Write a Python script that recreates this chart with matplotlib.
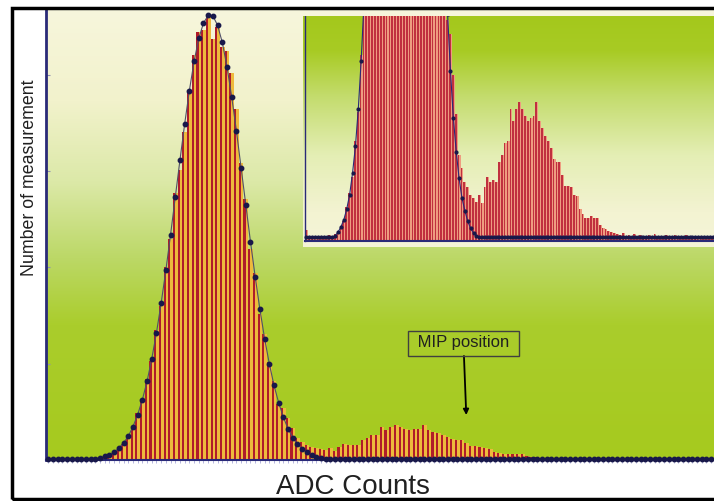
import numpy as np
import matplotlib
matplotlib.use('Agg')
import matplotlib.pyplot as plt
from matplotlib.colors import LinearSegmentedColormap
from matplotlib.patches import Rectangle

plt.rcParams['font.family'] = ['Liberation Sans', 'DejaVu Sans']

# histogram counts per ADC bin (main peak = pedestal, bump = MIP)
counts = [0.6, 0.3, 0.25, 0.3, 0.2, 0.3, 0.25, 0.3, 0.35, 0.3, 0.4, 0.45, 0.7, 1.1,
          1.9, 2.7, 3.6, 5.6, 7.2, 10.4, 13.1, 17.9, 22.0, 28.9, 34.2, 43.0, 49.2, 59.3,
          64.5, 73.0, 82.0, 90.0, 95.2, 95.6, 99.1, 93.5, 96.3, 91.8, 91.0, 86.0, 78.0, 66.0,
          58.0, 47.0, 41.5, 32.5, 28.0, 21.8, 17.5, 12.4, 11.6, 9.3, 7.1, 4.8, 4.1, 3.3,
          3.0, 2.6, 2.4, 2.2, 2.6, 2.1, 3.0, 3.6, 3.3, 3.4, 3.3, 4.4, 4.8, 5.5,
          5.6, 7.4, 6.7, 7.4, 7.8, 7.4, 7.0, 6.7, 6.9, 7.0, 7.8, 6.7, 6.3, 5.9,
          5.6, 5.2, 4.6, 4.4, 4.4, 3.7, 3.1, 3.1, 3.0, 2.6, 2.5, 1.8, 1.5, 1.3,
          1.3, 1.4, 1.3, 1.3, 0.9, 0.75, 0.65, 0.55, 0.5, 0.45, 0.4, 0.35, 0.45, 0.3,
          0.35, 0.3, 0.4, 0.25, 0.35, 0.3, 0.25, 0.35, 0.3, 0.4, 0.25, 0.3, 0.3, 0.35,
          0.25, 0.3, 0.35, 0.2, 0.3, 0.25, 0.35, 0.3, 0.2, 0.3, 0.25, 0.3, 0.2, 0.3, 0.25, 0.3]

# fitted pedestal curve, one point per bin
fit = [0.2, 0.2, 0.2, 0.2, 0.2, 0.2, 0.2, 0.2, 0.2, 0.2, 0.3, 0.5, 0.8, 1.2,
       1.8, 2.6, 3.8, 5.3, 7.4, 10.1, 13.4, 17.5, 22.5, 28.3, 34.9, 42.2, 50.1, 58.4,
       66.7, 74.7, 82.1, 88.6, 93.7, 97.1, 98.8, 98.7, 96.6, 92.8, 87.4, 80.7, 73.2, 65.0,
       56.7, 48.5, 40.7, 33.5, 27.0, 21.4, 16.6, 12.7, 9.5, 6.9, 5.0, 3.5, 2.4, 1.7,
       1.1, 0.7, 0.45, 0.3, 0.2, 0.2, 0.2, 0.2, 0.2, 0.2, 0.2, 0.2, 0.2, 0.2,
       0.2, 0.2, 0.2, 0.2, 0.2, 0.2, 0.2, 0.2, 0.2, 0.2, 0.2, 0.2, 0.2, 0.2,
       0.2, 0.2, 0.2, 0.2, 0.2, 0.2, 0.2, 0.2, 0.2, 0.2, 0.2, 0.2, 0.2, 0.2,
       0.2, 0.2, 0.2, 0.2, 0.2, 0.2, 0.2, 0.2, 0.2, 0.2, 0.2, 0.2, 0.2, 0.2,
       0.2, 0.2, 0.2, 0.2, 0.2, 0.2, 0.2, 0.2, 0.2, 0.2, 0.2, 0.2, 0.2, 0.2,
       0.2, 0.2, 0.2, 0.2, 0.2, 0.2, 0.2, 0.2, 0.2, 0.2, 0.2, 0.2, 0.2, 0.2, 0.2, 0.2]

mip_x = 88.9
mip_label = 'MIP position'

W, H = 714, 501
fig = plt.figure(figsize=(W / 100, H / 100), dpi=100)


def px_axes(x0, y0, x1, y1):
    return fig.add_axes([x0 / W, 1 - y1 / H, (x1 - x0) / W, (y1 - y0) / H])


bins = np.arange(len(counts))
navy = '#2a2a78'

# ---- main plot
ax = px_axes(46, 10, 714, 460)
x0, x1 = -0.5, 141.6
ax.set_xlim(x0, x1)
ax.set_ylim(0, 100)
grad = np.linspace(0, 1, 256).reshape(-1, 1)
main_bg = LinearSegmentedColormap.from_list('mbg', [(0, '#f7f6dc'), (0.2, '#f2f2cc'), (0.38, '#dce9a8'),
                                                    (0.55, '#bcd867'), (0.7, '#aacd2c'), (1, '#a6ca1e')])
ax.imshow(grad, cmap=main_bg, extent=(x0, x1, 0, 100), aspect='auto', zorder=0)

ax.bar(bins - 0.5, counts, width=0.45, align='edge', color='#b01c2a', lw=0, zorder=2)
ax.bar(bins - 0.05, counts, width=0.55, align='edge', color='#eeba3c', lw=0, zorder=2)
ax.plot(bins, fit, color='#505068', lw=0.8, marker='o', ms=3.2, mfc='#18184a', mec='#18184a',
        zorder=4, clip_on=False)

for s in ['top', 'right']:
    ax.spines[s].set_visible(False)
ax.spines['left'].set_color(navy)
ax.spines['left'].set_linewidth(2)
ax.spines['bottom'].set_color(navy)
ax.spines['bottom'].set_linewidth(1.5)
ax.spines['bottom'].set_zorder(3)
ax.set_yticks([21.4, 42.8, 64.2, 85.6])
ax.set_yticklabels([])
ax.tick_params(axis='y', direction='in', length=3, color='#9090b0')
ax.set_xticks(bins)
ax.set_xticklabels([])
ax.tick_params(axis='x', direction='out', length=2, width=0.6, color='#a8a8d8')

ax.annotate(' ' + mip_label + ' ', xy=(mip_x, 10.0), xytext=(88.3, 26.0), ha='center', va='center',
            fontsize=12, color='#202020',
            bbox=dict(boxstyle='square,pad=0.3', fc='none', ec='#404040', lw=1),
            arrowprops=dict(arrowstyle='-|>', color='black', lw=1.3, mutation_scale=8,
                            shrinkA=0, shrinkB=0), zorder=5)

# ---- inset (zoom on low counts)
ax2 = px_axes(303, 16, 714, 247)
ix0, ix1 = -1.2, 141.5
iy0, iy1 = -0.34, 12.6
ax2.set_xlim(ix0, ix1)
ax2.set_ylim(iy0, iy1)
ins_bg = LinearSegmentedColormap.from_list('ibg', [(0, '#a4c81c'), (0.15, '#a8cb24'), (0.35, '#c4dc6e'),
                                                   (0.6, '#e4eeb4'), (0.85, '#f3f3d2'), (1, '#f5f4d8')])
ax2.imshow(grad, cmap=ins_bg, extent=(ix0, ix1, iy0, iy1), aspect='auto', zorder=0)
ax2.bar(bins - 0.5, counts, width=0.6, align='edge', color='#c0303f', lw=0, zorder=2)
ax2.bar(bins + 0.1, counts, width=0.4, align='edge', color='#ee9c80', lw=0, zorder=2)
ax2.plot(bins, fit, color=navy, lw=0.8, marker='o', ms=2.0, mfc='#18184a', mec='#18184a', zorder=4)
ax2.plot([-0.5, ix1], [0, 0], color=navy, lw=1.5, zorder=3)
ax2.plot([-0.5, -0.5], [0, iy1], color=navy, lw=1, zorder=3)
for s in ax2.spines.values():
    s.set_visible(False)
ax2.set_xticks([])
ax2.set_yticks([])

# ---- labels and frame
fig.text(30 / W, 1 - 178 / H, 'Number of measurement', rotation=90, ha='center', va='center',
         fontsize=12.8, color='#202020')
fig.text(353 / W, 1 - 487 / H, 'ADC Counts', ha='center', va='center', fontsize=20, color='#202020')
fig.add_artist(Rectangle((12 / W, 1 - 499 / H), (730 - 12) / W, (499 - 8) / H,
                         transform=fig.transFigure, fill=False, lw=2.5, ec='black'))

fig.savefig('out.png', dpi=100)
